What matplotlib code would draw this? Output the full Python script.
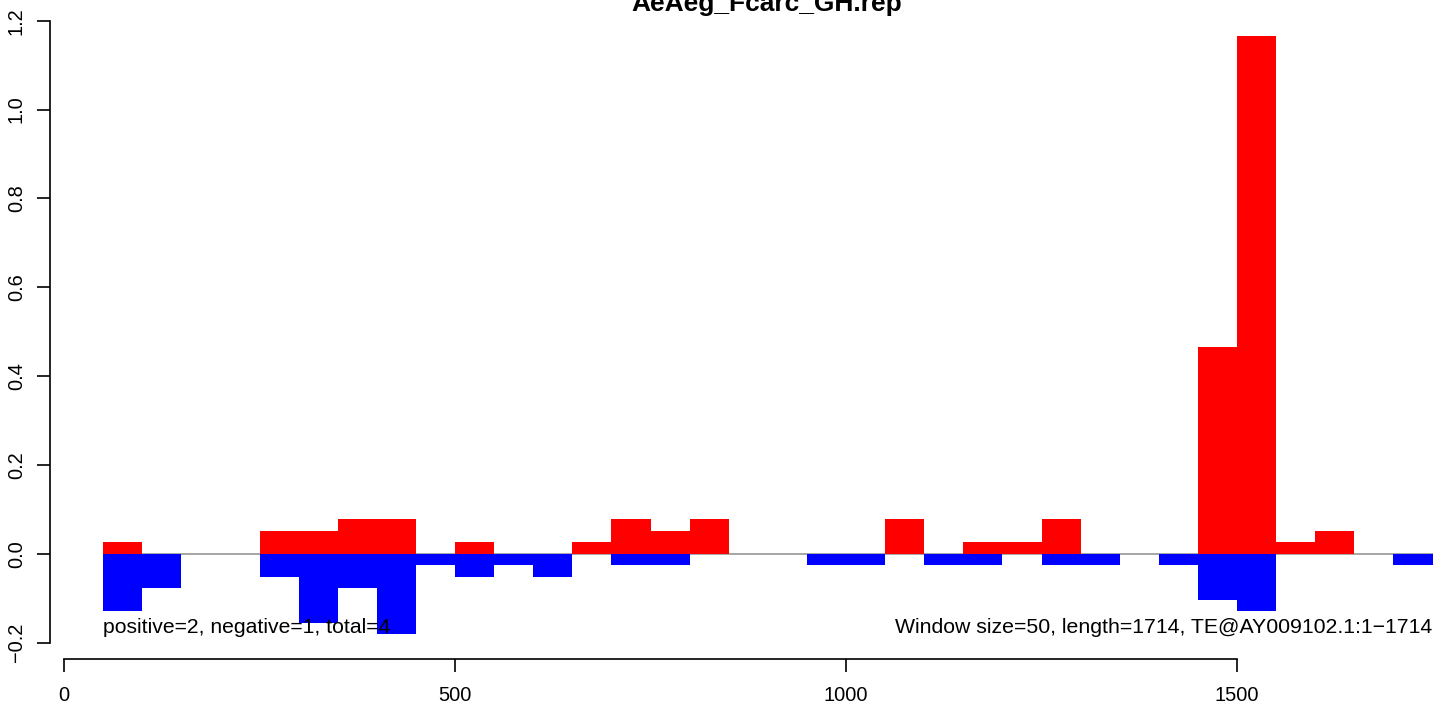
import matplotlib
matplotlib.use("Agg")
import matplotlib.pyplot as plt
import numpy as np

plt.rcParams['font.family'] = ['Liberation Sans', 'DejaVu Sans']

# Window start positions (window size 50)
window_starts = list(range(0, 1750, 50))
# Positive-strand values per window
positive = [0, 0.0259, 0, 0, 0, 0.0518, 0.0518, 0.0777, 0.0777, 0,
            0.0259, 0, 0, 0.0259, 0.0777, 0.0518, 0.0777, 0, 0, 0,
            0, 0.0777, 0, 0.0259, 0.0259, 0.0777, 0, 0, 0, 0.466,
            1.165, 0.0259, 0.0518, 0, 0]
# Negative-strand values per window (magnitudes)
negative = [0, 0.1295, 0.0777, 0, 0, 0.0518, 0.1553, 0.0777, 0.1812, 0.0259,
            0.0518, 0.0259, 0.0518, 0, 0.0259, 0.0259, 0, 0, 0, 0.0259,
            0.0259, 0, 0.0259, 0.0259, 0, 0.0259, 0.0259, 0, 0.0259, 0.1036,
            0.1295, 0, 0, 0, 0.0259]
x_ticks = [0, 500, 1000, 1500]
y_ticks = [-0.2, 0.0, 0.2, 0.4, 0.6, 0.8, 1.0, 1.2]
title = "AeAeg_Fcarc_GH.rep"
left_text = "positive=2, negative=1, total=4"
right_text = "Window size=50, length=1714, TE@AY009102.1:1\u22121714"

W, H = 1449, 704
fig = plt.figure(figsize=(W / 100, H / 100), dpi=100)

# pixel geometry
ax_left, ax_right = 50, 1449
ax_bottom, ax_top = 659.3, 11.8
ax = fig.add_axes([ax_left / W, 1 - ax_bottom / H,
                   (ax_right - ax_left) / W, (ax_bottom - ax_top) / H])

x0px, xscale = 64.0, 0.782
y0px, yscale = 553.8, 444.3
ax.set_xlim((ax_left - x0px) / xscale, (ax_right - x0px) / xscale)
ax.set_ylim(-(ax_bottom - y0px) / yscale, (y0px - ax_top) / yscale)

starts = np.array(window_starts)
ax.plot([50, 1750], [0, 0], color='#a6a6a6', lw=1.4, zorder=1, solid_capstyle='butt')
ax.bar(starts, positive, width=50, align='edge', color='#ff0000', linewidth=0, zorder=2)
ax.bar(starts, -np.array(negative), width=50, align='edge', color='#0000ff', linewidth=0, zorder=2)

for s in ['top', 'right']:
    ax.spines[s].set_visible(False)
ax.spines['left'].set_bounds(y_ticks[0], y_ticks[-1])
ax.spines['bottom'].set_bounds(x_ticks[0], x_ticks[-1])
ax.spines['left'].set_linewidth(1.2)
ax.spines['bottom'].set_linewidth(1.2)

ax.set_xticks(x_ticks)
ax.set_xticklabels([str(v) for v in x_ticks])
ax.set_yticks(y_ticks)
ax.set_yticklabels([f"{v:.1f}".replace('-', '\u2212') for v in y_ticks],
                   rotation=90, va='center')
ax.tick_params(axis='both', direction='out', length=9.4, width=1.2,
               labelsize=14.4, colors='black')
ax.tick_params(axis='x', pad=10)
ax.tick_params(axis='y', pad=8)

ax.text(50, -0.165, left_text, ha='left', va='center', fontsize=15.2, zorder=3)
ax.text(1750, -0.165, right_text, ha='right', va='center', fontsize=15.3, zorder=3)

fig.text(767 / W, 1 - 4 / H, title, ha='center', va='center',
         fontsize=19, fontweight='bold')

fig.savefig("out.png", dpi=100)
